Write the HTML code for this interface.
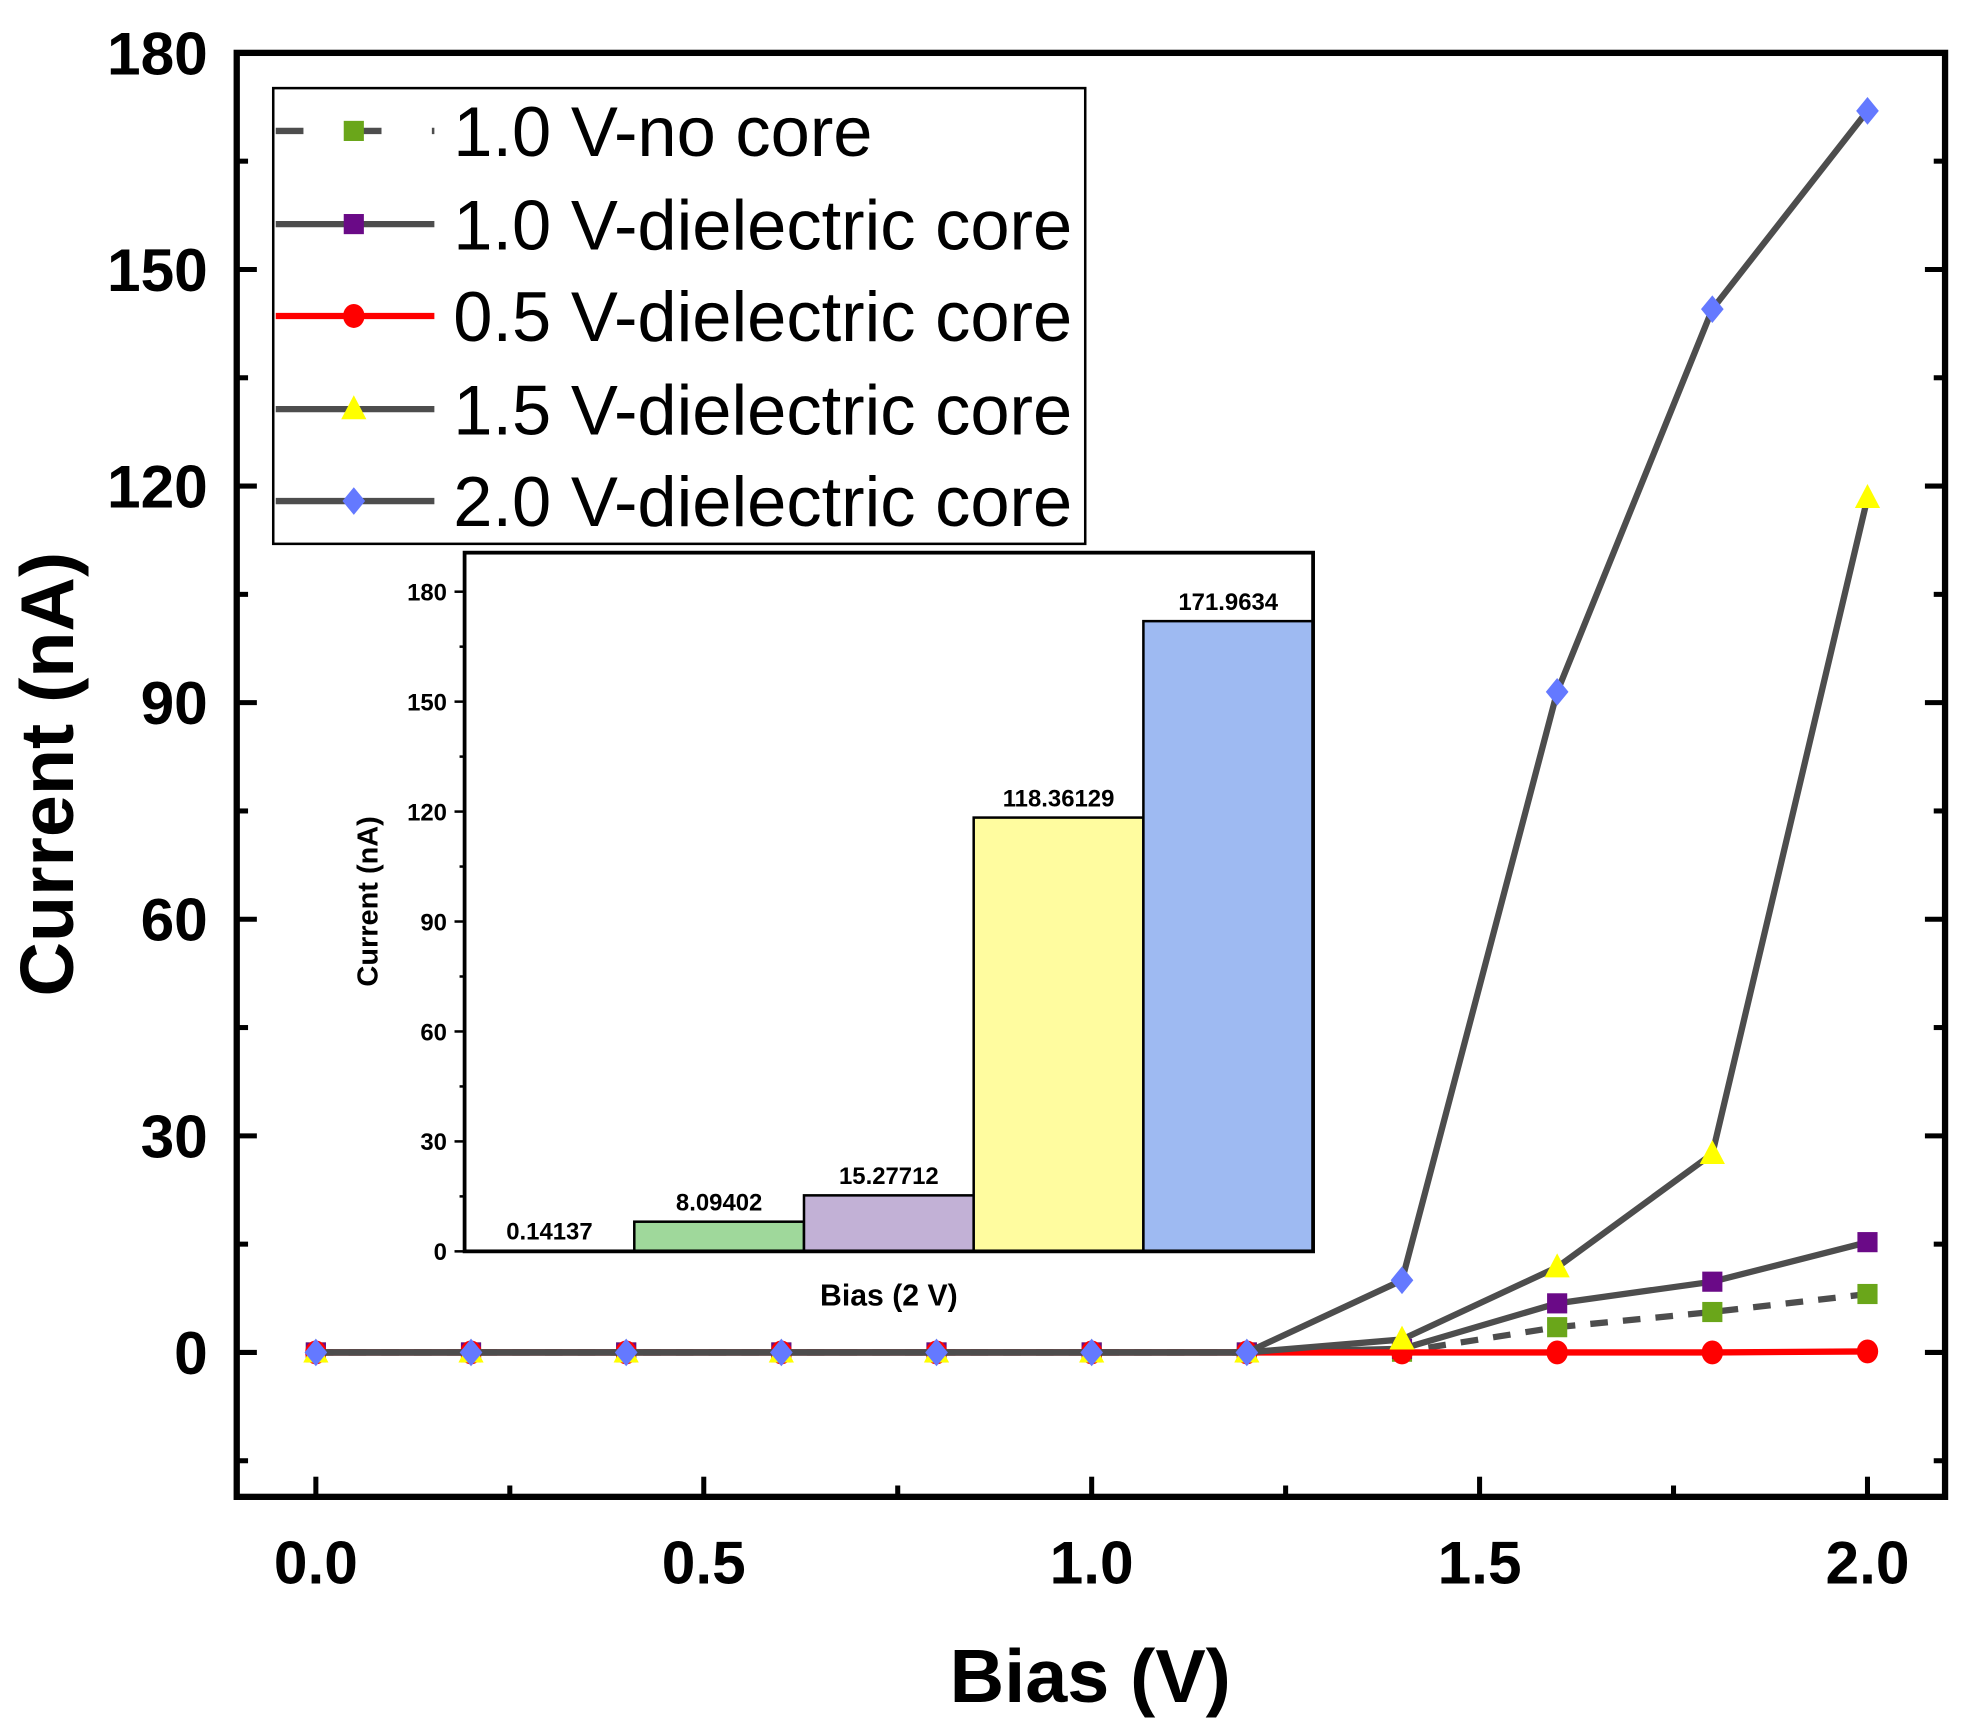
<!DOCTYPE html>
<html><head><meta charset="utf-8">
<style>
html,body{margin:0;padding:0;background:#fff;}
svg{display:block;font-family:"Liberation Sans",Arial,sans-serif;}
</style></head>
<body>
<svg id="chart" width="1964" height="1731" viewBox="0 0 1560 1375" xmlns="http://www.w3.org/2000/svg">
<g id="main"></g>
<g id="inset"></g>
<g id="legend"></g>
</svg>
<script>
const biasValues = [0, 0.2, 0.4, 0.6, 0.8, 1.0, 1.2, 1.4, 1.6, 1.8, 2.0];
const noCore10 = [0, 0, 0, 0, 0, 0, 0, 0.1, 3.5, 5.6, 8.09402];
const diel10 = [0, 0, 0, 0, 0, 0, 0, 0.5, 6.8, 9.8, 15.27712];
const diel05 = [0, 0, 0, 0, 0, 0, 0, 0, 0, 0, 0.14137];
const diel15 = [0, 0, 0, 0, 0, 0, 0, 1.8, 11.8, 27.5, 118.36129];
const diel20 = [0, 0, 0, 0, 0, 0, 0, 10, 91.5, 144.5, 171.9634];
const yTicks = [0, 30, 60, 90, 120, 150, 180];
const xTicks = [0.0, 0.5, 1.0, 1.5, 2.0];
const insetCats = ["0.5 V", "1.0 V-no core", "1.0 V", "1.5 V", "2.0 V"];
const insetVals = [0.14137, 8.09402, 15.27712, 118.36129, 171.9634];
const insetLabels = ["0.14137", "8.09402", "15.27712", "118.36129", "171.9634"];
const insetTicks = [0, 30, 60, 90, 120, 150, 180];

const NS = "http://www.w3.org/2000/svg";
function mk(parent, tag, attrs, text) {
  const e = document.createElementNS(NS, tag);
  for (const k in attrs) e.setAttribute(k, attrs[k]);
  if (text !== undefined) e.textContent = text;
  parent.appendChild(e);
  return e;
}
const L = 188, R = 1545, T = 42, B = 1189;
const xMin = -0.102, xMax = 2.1, yMin = -20, yMax = 180;
const X = v => L + (v - xMin) / (xMax - xMin) * (R - L);
const Y = v => B - (v - yMin) / (yMax - yMin) * (B - T);
const main = document.getElementById("main");

for (let v = -15; v <= 180; v += 15) {
  const major = v % 30 === 0;
  const len = major ? 16 : 9;
  const t1 = mk(main, "line", {x1: L, x2: L + len, y1: Y(v), y2: Y(v), stroke: "#000", "stroke-width": 4});
  
  
  const t2 = mk(main, "line", {x1: R, x2: R - len, y1: Y(v), y2: Y(v), stroke: "#000", "stroke-width": 4});
  
  
}
for (let i = 0; i <= 8; i++) {
  const v = i * 0.25;
  const major = i % 2 === 0;
  const len = major ? 16 : 9;
  const t = mk(main, "line", {x1: X(v), x2: X(v), y1: B, y2: B - len, stroke: "#000", "stroke-width": 4});
  
  
}
yTicks.forEach(v => {
  const t = mk(main, "text", {x: 165, y: Y(v) + 17, "text-anchor": "end", "font-size": 48, "font-weight": "bold"}, String(v));
  
  
});
xTicks.forEach(v => {
  const t = mk(main, "text", {x: X(v), y: 1258, "text-anchor": "middle", "font-size": 48, "font-weight": "bold"}, v.toFixed(1));
  
  
});
const xt = mk(main, "text", {x: 866, y: 1352, "text-anchor": "middle", "font-size": 60, "font-weight": "bold"}, "Bias (V)");


const yt = mk(main, "text", {x: 0, y: 0, transform: "translate(58,615) rotate(-90)", "text-anchor": "middle", "font-size": 60, "font-weight": "bold"}, "Current (nA)");



function marker(g, type, cx, cy, color) {
  let m;
  if (type === "square") m = mk(g, "rect", {x: cx - 8, y: cy - 8, width: 16, height: 16, fill: color});
  else if (type === "circle") m = mk(g, "ellipse", {cx: cx, cy: cy, rx: 8.5, ry: 9.5, fill: color});
  else if (type === "triangle") m = mk(g, "polygon", {points: `${cx},${cy - 11} ${cx - 10},${cy + 8} ${cx + 10},${cy + 8}`, fill: color});
  else m = mk(g, "polygon", {points: `${cx},${cy - 11} ${cx + 9},${cy} ${cx},${cy + 11} ${cx - 9},${cy}`, fill: color});
  return m;
}
const series = [
  {name: "series-no-core-1v", vals: noCore10, line: "#4d4d4d", dash: "14,12", mk: "square", color: "#6aa61a", label: "1.0 V-no core"},
  {name: "series-dielectric-1v", vals: diel10, line: "#4d4d4d", dash: null, mk: "square", color: "#6a0a87", label: "1.0 V-dielectric core"},
  {name: "series-dielectric-05v", vals: diel05, line: "#ff0000", dash: null, mk: "circle", color: "#ff0000", label: "0.5 V-dielectric core"},
  {name: "series-dielectric-15v", vals: diel15, line: "#4d4d4d", dash: null, mk: "triangle", color: "#ffff00", label: "1.5 V-dielectric core"},
  {name: "series-dielectric-2v", vals: diel20, line: "#4d4d4d", dash: null, mk: "diamond", color: "#6479ff", label: "2.0 V-dielectric core"}
];
series.forEach(s => {
  const g = mk(main, "g", {});
  
  
  const pts = s.vals.map((v, i) => X(biasValues[i]) + "," + Y(v)).join(" ");
  const pl = mk(g, "polyline", {points: pts, fill: "none", stroke: s.line, "stroke-width": 5});
  if (s.dash) pl.setAttribute("stroke-dasharray", s.dash);
  
  
  s.vals.forEach((v, i) => {
    const m = marker(g, s.mk, X(biasValues[i]), Y(v), s.color);
    
    
  });
});
const frame = mk(main, "rect", {x: L, y: T, width: R - L, height: B - T, fill: "none", stroke: "#000", "stroke-width": 5});



const lg = document.getElementById("legend");


const lbox = mk(lg, "rect", {x: 217, y: 70, width: 645, height: 362, fill: "#fff", stroke: "#000", "stroke-width": 2});


const legY = [104, 178, 251, 325, 398];
series.forEach((s, i) => {
  const g = mk(lg, "g", {});
  
  
  const ln = mk(g, "line", {x1: 219, x2: 345, y1: legY[i], y2: legY[i], stroke: s.line, "stroke-width": 5});
  if (s.dash) ln.setAttribute("stroke-dasharray", "22,40");
  marker(g, s.mk, 281, legY[i], s.color);
  mk(g, "text", {x: 360, y: legY[i] + 20, "font-size": 56}, s.label);
});

const IL = 369, IR = 1043, IT = 439, IB = 994;
const IY = v => IB - v / 180 * (994 - 470);
const ins = document.getElementById("inset");


mk(ins, "rect", {x: IL, y: IT, width: IR - IL, height: IB - IT, fill: "#fff"});
const barColors = ["#ffffff", "#9fd89b", "#c2b1d6", "#fffc9f", "#9ebaf2"];
const bw = (IR - IL) / insetCats.length;
insetVals.forEach((v, i) => {
  const x = IL + i * bw;
  const b = mk(ins, "rect", {x: x, y: IY(v), width: bw, height: IB - IY(v), fill: barColors[i], stroke: "#000", "stroke-width": 2});
  
  
  const t = mk(ins, "text", {x: x + bw / 2, y: IY(v) - 9, "text-anchor": "middle", "font-size": 19, "font-weight": "bold"}, insetLabels[i]);
  
  
});
for (let v = 0; v <= 180; v += 15) {
  const major = v % 30 === 0;
  const t = mk(ins, "line", {x1: IL, x2: IL - (major ? 8 : 4), y1: IY(v), y2: IY(v), stroke: "#000", "stroke-width": 2});
  
  
}
insetTicks.forEach(v => {
  const t = mk(ins, "text", {x: 355, y: IY(v) + 7, "text-anchor": "end", "font-size": 19, "font-weight": "bold"}, String(v));
  
  
});
const iframe = mk(ins, "rect", {x: IL, y: IT, width: IR - IL, height: IB - IT, fill: "none", stroke: "#000", "stroke-width": 3});


const ixt = mk(ins, "text", {x: 706, y: 1037, "text-anchor": "middle", "font-size": 24, "font-weight": "bold"}, "Bias (2 V)");


const iyt = mk(ins, "text", {x: 0, y: 0, transform: "translate(300,716) rotate(-90)", "text-anchor": "middle", "font-size": 23, "font-weight": "bold"}, "Current (nA)");


</script>
</body></html>
